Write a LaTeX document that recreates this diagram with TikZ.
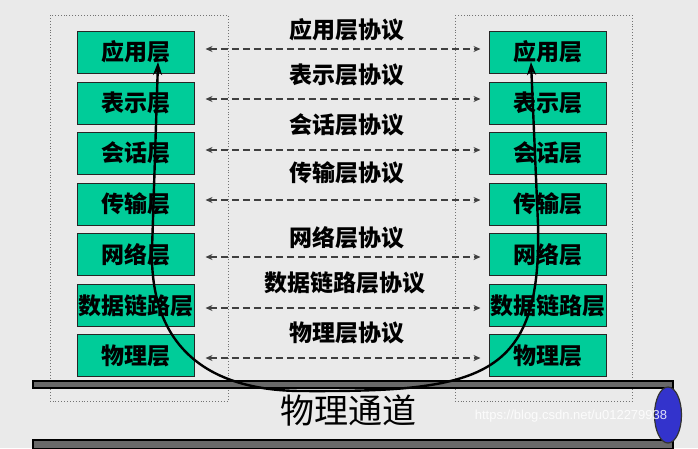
\documentclass[tikz,border=0pt]{standalone}
\usepackage{fontspec}
\newfontfamily\cjk{Noto Sans CJK SC}
\newfontfamily\wmfont{Liberation Sans}
\usetikzlibrary{arrows.meta,shapes.geometric}
\definecolor{bg}{RGB}{234,234,234}
\definecolor{layergreen}{RGB}{0,204,153}
\definecolor{pipeblue}{RGB}{51,51,204}
\definecolor{pipegray}{RGB}{105,105,105}
\begin{document}
\begin{tikzpicture}[x=1pt,y=-1pt,
  layer/.style={draw=black!85, line width=1pt, fill=layergreen,
    minimum width=117pt, minimum height=42pt, inner sep=0pt,
    font=\cjk\bfseries\fontsize{23}{23}\selectfont},
  proto/.style={inner sep=0pt, font=\cjk\bfseries\fontsize{23}{23}\selectfont},
  peer/.style={draw=black!75, line width=1.2pt, dash pattern=on 7pt off 4pt,
    {Stealth[length=7pt,width=6pt]}-{Stealth[length=7pt,width=6pt]},
    shorten <=11pt, shorten >=8pt},
  hostbox/.style={draw=black!55, line width=0.9pt, dotted},
  pipeband/.style={draw=black, line width=1.5pt, fill=pipegray},
  flow/.style={draw=black, line width=2.4pt, line join=round,
    {Stealth[length=13pt,width=9pt]}-{Stealth[length=13pt,width=9pt]}}]
\fill[bg] (0,0) rectangle (698,448);
\useasboundingbox (0,0) rectangle (698,448);

% dotted host boxes
\draw[hostbox] (50,15) rectangle (228,401);
\draw[hostbox] (455,15) rectangle (632,401);

% pipe
\draw[pipeband] (33,381) rectangle (673,388);
\draw[pipeband] (33,440) rectangle (673,449);
\node[draw=black!80, line width=1.2pt, fill=pipeblue, ellipse, minimum width=27pt, minimum height=56pt, inner sep=0pt] (pipeend) at (668,415) {};

% layers
\node[layer] (L1) at (135.5,52) {应用层};
\node[layer] (L2) at (135.5,103) {表示层};
\node[layer] (L3) at (135.5,153) {会话层};
\node[layer] (L4) at (135.5,204) {传输层};
\node[layer] (L5) at (135.5,254.5) {网络层};
\node[layer] (L6) at (135.5,305.5) {数据链路层};
\node[layer] (L7) at (135.5,355.5) {物理层};

\node[layer] (R1) at (547.5,52) {应用层};
\node[layer] (R2) at (547.5,103) {表示层};
\node[layer] (R3) at (547.5,153) {会话层};
\node[layer] (R4) at (547.5,204) {传输层};
\node[layer] (R5) at (547.5,254.5) {网络层};
\node[layer] (R6) at (547.5,305.5) {数据链路层};
\node[layer] (R7) at (547.5,355.5) {物理层};

% peer protocols
\draw[peer] ([yshift=3pt]L1.east) -- ([yshift=3pt]R1.west);
\draw[peer] ([yshift=4pt]L2.east) -- ([yshift=4pt]R2.west);
\draw[peer] ([yshift=3pt]L3.east) -- ([yshift=3pt]R3.west);
\draw[peer] ([yshift=4pt]L4.east) -- ([yshift=4pt]R4.west);
\draw[peer] ([yshift=-2.5pt]L5.east) -- ([yshift=-2.5pt]R5.west);
\draw[peer] ([yshift=-2.5pt]L6.east) -- ([yshift=-2.5pt]R6.west);
\draw[peer] ([yshift=-2.5pt]L7.east) -- ([yshift=-2.5pt]R7.west);

\node[proto] (P1) at (347,30) {应用层协议};
\node[proto] (P2) at (347,75) {表示层协议};
\node[proto] (P3) at (347,125) {会话层协议};
\node[proto] (P4) at (347,173) {传输层协议};
\node[proto] (P5) at (347,238) {网络层协议};
\node[proto] (P6) at (345,283) {数据链路层协议};
\node[proto] (P7) at (347,333) {物理层协议};

% physical channel label
\node[inner sep=0pt, font=\cjk\fontsize{34}{34}\selectfont] (chan) at (348,411) {物理通道};

% data flow curve
\coordinate (tipL) at (158,62);
\coordinate (tipR) at (531,62);
\draw[flow] (tipL) -- (152,250) .. controls (150,340) and (200,390) .. (300,391)
  .. controls (480,392) and (542,380) .. (538,224) -- (tipR);

% watermark
\node[inner sep=0pt, text=white, opacity=0.85, font=\wmfont\fontsize{13}{13}\selectfont] (wm) at (571,416) {https://blog.csdn.net/u012279938};
\end{tikzpicture}
\end{document}
